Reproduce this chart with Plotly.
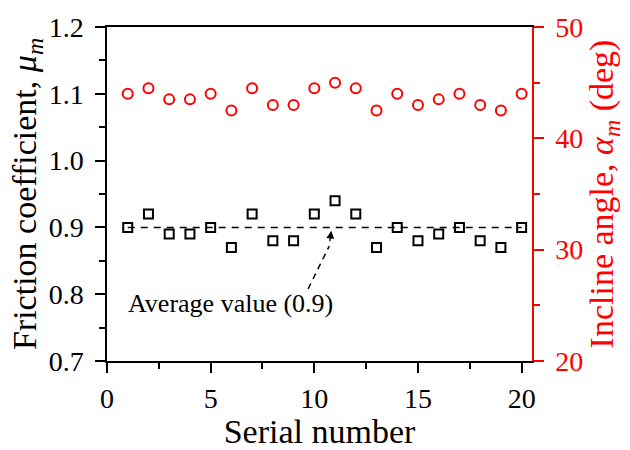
import plotly.graph_objects as go

serial = list(range(1, 21))
friction = [0.90, 0.92, 0.89, 0.89, 0.90, 0.87, 0.92, 0.88, 0.88, 0.92,
            0.94, 0.92, 0.87, 0.90, 0.88, 0.89, 0.90, 0.88, 0.87, 0.90]
incline = [44.0, 44.5, 43.5, 43.5, 44.0, 42.5, 44.5, 43.0, 43.0, 44.5,
           45.0, 44.5, 42.5, 44.0, 43.0, 43.5, 44.0, 43.0, 42.5, 44.0]
avg_value = 0.9
x_ticks = [0, 5, 10, 15, 20]
left_ticks = [0.7, 0.8, 0.9, 1.0, 1.1, 1.2]
left_ticktext = ["0.7", "0.8", "0.9", "1.0", "1.1", "1.2"]
right_ticks = [20, 30, 40, 50]

FONT = "Liberation Serif"
RED = "#ff0000"

fig = go.Figure()
fig.add_trace(go.Scatter(
    x=[serial[0], serial[-1]], y=[avg_value, avg_value], mode="lines",
    line=dict(color="black", width=1.5, dash="7px,6px"), showlegend=False,
    hoverinfo="skip"))
fig.add_trace(go.Scatter(
    x=serial, y=friction, mode="markers",
    marker=dict(symbol="square-open", size=9, color="black",
                line=dict(width=2, color="black")),
    showlegend=False))
fig.add_trace(go.Scatter(
    x=serial, y=incline, mode="markers", yaxis="y2",
    marker=dict(symbol="circle-open", size=10, color=RED,
                line=dict(width=2, color=RED)),
    showlegend=False))

# dashed arrow shaft + arrowhead
fig.add_shape(type="line", x0=9.70, y0=0.808, x1=10.72, y1=0.872,
              xref="x", yref="y",
              line=dict(color="black", width=1.5, dash="6px,5px"))
fig.add_annotation(x=10.82, y=0.895, ax=10.74, ay=0.877, xref="x", yref="y",
                   axref="x", ayref="y", showarrow=True, arrowhead=2,
                   arrowsize=1.2, arrowwidth=1.3, arrowcolor="black", text="",
                   standoff=0)
fig.add_annotation(x=5.94, y=0.786, xref="x", yref="y", showarrow=False,
                   text="Average value (0.9)",
                   font=dict(family=FONT, size=26, color="black"))

fig.update_layout(
    width=630, height=450,
    margin=dict(l=107, r=98, t=18, b=88),
    paper_bgcolor="white", plot_bgcolor="white",
    font=dict(family=FONT, size=28, color="black"),
    xaxis=dict(
        range=[0, 20.5], tickvals=x_ticks, showgrid=False, zeroline=False,
        showline=True, linecolor="black", linewidth=1.5, mirror=True,
        ticks="outside", ticklen=10, tickwidth=1.5, tickcolor="black",
        ticklabelstandoff=2,
        minor=dict(dtick=2.5, tick0=0, ticks="outside", ticklen=6,
                   tickwidth=1.5, tickcolor="black"),
        tickfont=dict(family=FONT, size=28, color="black"),
        title=dict(text="Serial number", standoff=0,
                   font=dict(family=FONT, size=34, color="black"))),
    yaxis=dict(
        range=[0.7, 1.2], tickvals=left_ticks, ticktext=left_ticktext,
        showgrid=False, zeroline=False,
        showline=True, linecolor="black", linewidth=1.5,
        ticks="outside", ticklen=10, tickwidth=1.5, tickcolor="black",
        ticklabelstandoff=6,
        minor=dict(dtick=0.05, tick0=0.7, ticks="outside", ticklen=6,
                   tickwidth=1.5, tickcolor="black"),
        tickfont=dict(family=FONT, size=28, color="black"),
        title=dict(text="Friction coefficient, <i>μ<sub>m</sub></i>", standoff=2,
                   font=dict(family=FONT, size=34, color="black"))),
    yaxis2=dict(
        range=[20, 50], tickvals=right_ticks, overlaying="y", side="right",
        showgrid=False, zeroline=False,
        showline=True, linecolor=RED, linewidth=1.5,
        ticks="outside", ticklen=10, tickwidth=1.5, tickcolor=RED,
        ticklabelstandoff=6,
        minor=dict(dtick=5, tick0=20, ticks="outside", ticklen=6,
                   tickwidth=1.5, tickcolor=RED),
        tickfont=dict(family=FONT, size=28, color=RED),
        title=dict(text="Incline angle, <i>α<sub>m</sub></i> (deg)", standoff=4,
                   font=dict(family=FONT, size=34, color=RED))),
)

fig.write_html("out.html")
